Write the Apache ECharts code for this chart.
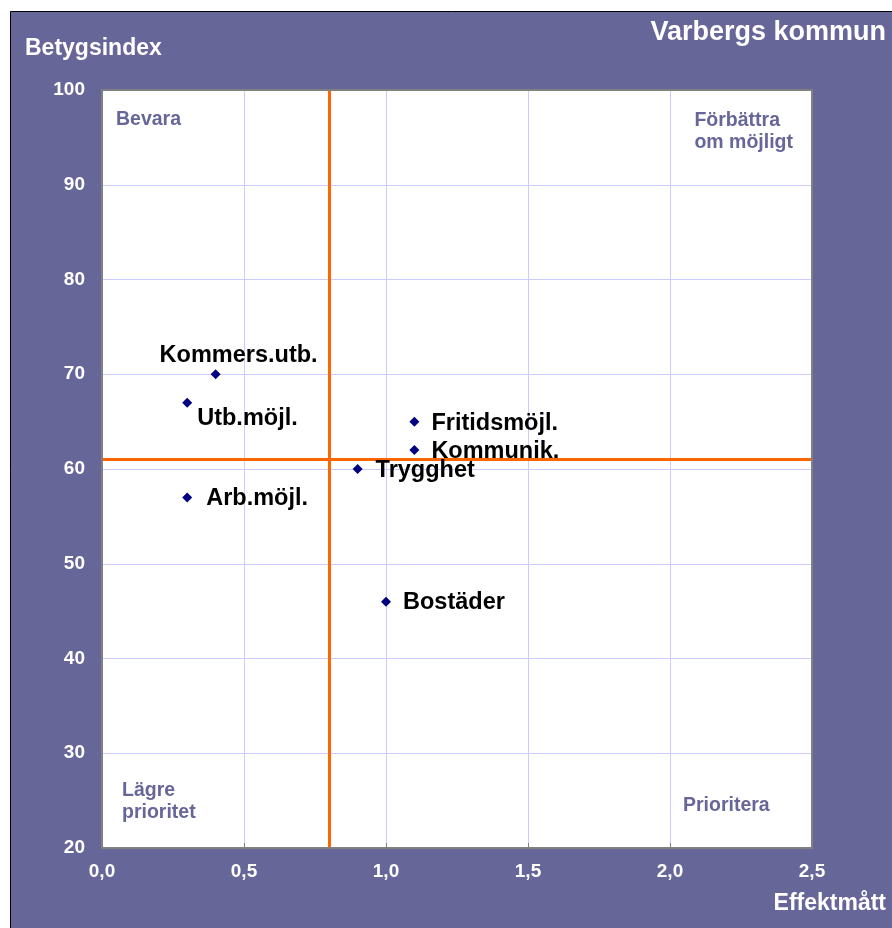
<!DOCTYPE html>
<html>
<head>
<meta charset="utf-8">
<script src="https://cdn.jsdelivr.net/npm/echarts@6/dist/echarts.min.js"></script>
<style>
  body { margin: 0; background: #fff; }
  #main { width: 892px; height: 928px; }
</style>
</head>
<body>
<div id="main"></div>
<script>
// punkter: namn, effektmått (x), betygsindex (y)
var names = ["Kommers.utb.", "Utb.möjl.", "Arb.möjl.", "Fritidsmöjl.", "Kommunik.", "Trygghet", "Bostäder"];
var effekt = [0.4, 0.3, 0.3, 1.1, 1.1, 0.9, 1.0];
var betyg = [70, 67, 57, 65, 62, 60, 46];
// korslinjer
var effektMedel = 0.8;
var betygMedel = 61;

// etikettförskjutning per punkt (bara utseende)
var labelOffset = {
  "Kommers.utb.": [-66, -19],
  "Utb.möjl.": [0, 16],
  "Arb.möjl.": [9, 1],
  "Fritidsmöjl.": [7, 2],
  "Kommunik.": [7, 1],
  "Trygghet": [8, 2],
  "Bostäder": [7, 1]
};

var font = 'Arial, "Liberation Sans", sans-serif';
var purple = "#666699";

var points = names.map(function (n, i) {
  return {
    name: n,
    value: [effekt[i], betyg[i]],
    label: { offset: labelOffset[n] }
  };
});

var myChart = echarts.init(document.getElementById("main"));
myChart.setOption({
  animation: false,
  backgroundColor: "#fff",
  textStyle: { fontFamily: font },
  graphic: [
    {
      type: "rect",
      z: -10,
      shape: { x: 10.5, y: 11.5, width: 890, height: 930 },
      style: { fill: purple, stroke: "#000", lineWidth: 1 }
    },
    {
      // ram runt ritytan, ovanpå rutnätet
      type: "rect",
      z: 20,
      silent: true,
      shape: { x: 102, y: 90, width: 710, height: 758 },
      style: { fill: null, stroke: "#808080", lineWidth: 2 }
    },
    {
      type: "text", left: 25, top: 37,
      style: { text: "Betygsindex", fill: "#fff", font: "bold 23px " + font }
    },
    {
      type: "text", right: 6, top: 19,
      style: { text: "Varbergs kommun", fill: "#fff", font: "bold 27px " + font }
    },
    {
      type: "text", right: 6, top: 892,
      style: { text: "Effektmått", fill: "#fff", font: "bold 23px " + font }
    },
    {
      type: "text", left: 116, top: 110, z: 10,
      style: { text: "Bevara", fill: purple, font: "bold 19.5px " + font }
    },
    {
      type: "text", right: 99, top: 110, z: 10,
      style: { text: "Förbättra\nom möjligt", fill: purple, font: "bold 19.5px " + font, align: "right", lineHeight: 22 }
    },
    {
      type: "text", left: 122, top: 780, z: 10,
      style: { text: "Lägre\nprioritet", fill: purple, font: "bold 19.5px " + font, lineHeight: 22 }
    },
    {
      type: "text", left: 683, top: 796, z: 10,
      style: { text: "Prioritera", fill: purple, font: "bold 19.5px " + font }
    }
  ],
  grid: {
    left: 102,
    top: 90,
    width: 710,
    height: 758,
    show: true,
    backgroundColor: "#fff",
    borderWidth: 0
  },
  xAxis: {
    type: "value",
    min: 0,
    max: 2.5,
    interval: 0.5,
    axisLine: { show: false },
    axisTick: { show: true, inside: true, length: 5, lineStyle: { color: "#808080" } },
    splitLine: { lineStyle: { color: "#ccccff", width: 1 } },
    axisLabel: {
      color: "#fff",
      fontWeight: "bold",
      fontSize: 19,
      margin: 14,
      formatter: function (v) { return v.toFixed(1).replace(".", ","); }
    }
  },
  yAxis: {
    type: "value",
    min: 20,
    max: 100,
    interval: 10,
    axisLine: { show: false },
    axisTick: { show: false },
    splitLine: { lineStyle: { color: "#ccccff", width: 1 } },
    axisLabel: { color: "#fff", fontWeight: "bold", fontSize: 19, margin: 17 }
  },
  series: [
    {
      type: "scatter",
      symbol: "diamond",
      symbolSize: 10,
      itemStyle: { color: "#000080", opacity: 1 },
      label: {
        show: true,
        position: "right",
        distance: 5,
        formatter: "{b}",
        color: "#000",
        fontWeight: "bold",
        fontSize: 23.5,
        fontFamily: font
      },
      data: points,
      z: 5,
      markLine: {
        silent: true,
        symbol: "none",
        label: { show: false },
        lineStyle: { color: "#ff6600", width: 3, type: "solid", opacity: 1 },
        data: [{ xAxis: effektMedel }, { yAxis: betygMedel }]
      }
    }
  ]
});
</script>
</body>
</html>
